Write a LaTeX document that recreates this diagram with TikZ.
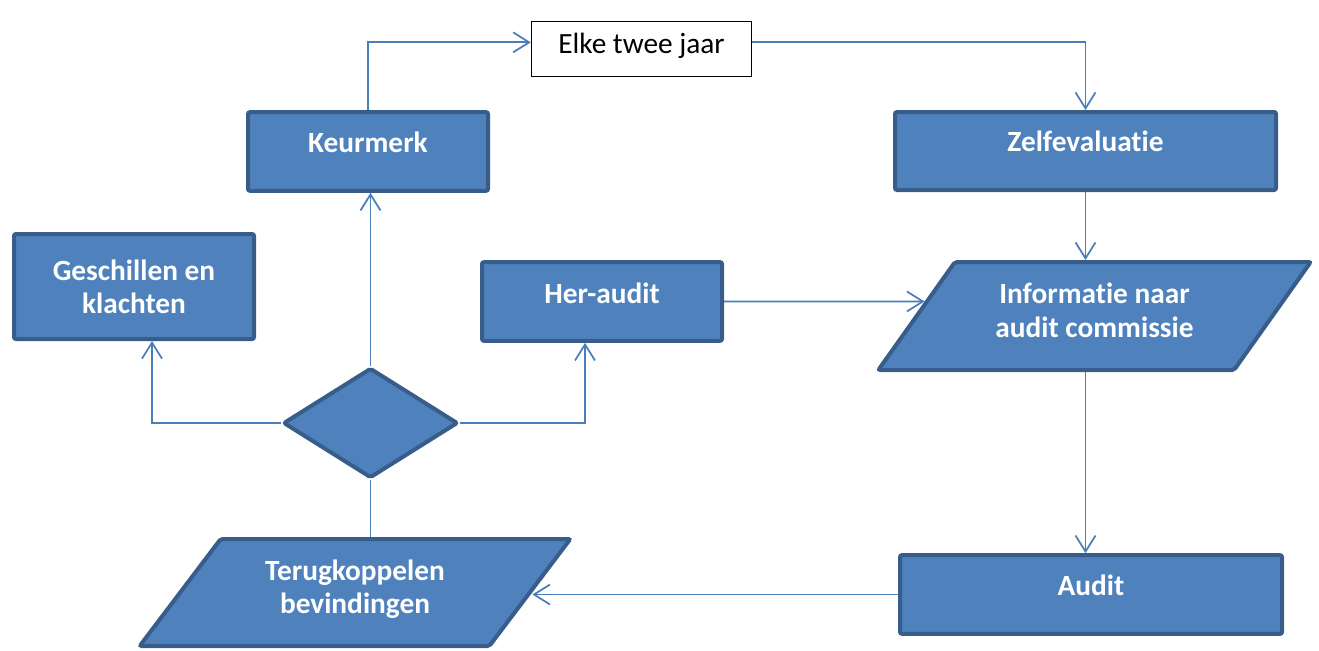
\documentclass[tikz,border=0pt]{standalone}
\usepackage{fontspec}
\setmainfont{Carlito}[Ligatures=NoCommon]
\usetikzlibrary{arrows.meta,positioning,calc,shapes.geometric}
\definecolor{boxfill}{HTML}{4F81BD}
\definecolor{boxline}{HTML}{385D8A}
\definecolor{conline}{HTML}{4A7EBB}

\begin{document}
\begin{tikzpicture}[
    x=0.75pt,y=-0.75pt,
    box/.style={rectangle,draw=boxline,fill=boxfill,line width=3pt,rounded corners=1.5pt,
      text=white,align=center,font=\fontsize{22}{25}\selectfont\bfseries},
    iobox/.style={box,trapezium,trapezium left angle=52.5,trapezium right angle=127.5,
      trapezium stretches=true},
    note/.style={rectangle,draw=black,line width=1.1pt,fill=white,
      font=\fontsize{22}{25}\selectfont},
    conn/.style={draw=conline,line width=1.3pt},
    >={Straight Barb[length=12pt,width=15pt]}]
    \useasboundingbox (0,0) rectangle (1319,650);

    \node[note,minimum width=165pt,minimum height=41.25pt,text depth=9pt] (elke) at (641.5,49) {Elke twee jaar};
    \node[box,minimum width=180pt,minimum height=59pt,text depth=14pt] (keur) at (368,151.5) {Keurmerk};
    \node[box,minimum width=285.75pt,minimum height=58.5pt,text depth=14pt] (zelf) at (1085.5,151) {Zelfevaluatie};
    \node[box,minimum width=180pt,minimum height=78.75pt] (gesch) at (134,286.5) {Geschillen en\\klachten};
    \node[box,minimum width=180pt,minimum height=59pt,text depth=13pt] (her) at (602,301.5) {Her-audit};
    \node[iobox,minimum width=324.75pt,minimum height=81pt,text depth=8.5pt] (info) at (1094.5,316) {Informatie naar\\audit commissie};
    \node[box,diamond,inner sep=0pt,minimum width=131pt,minimum height=82.5pt] (dia) at (370.5,423) {};
    \node[box,minimum width=286.5pt,minimum height=59pt,text depth=14pt] (audit) at (1091,594.5) {Audit};
    \node[iobox,minimum width=324pt,minimum height=80.25pt,text depth=8.5pt] (terug) at (355,592.5) {Terugkoppelen\\bevindingen};

    \draw[conn,->] (keur.north) |- ([yshift=5pt]elke.west);
    \draw[conn,->] ([yshift=5pt]elke.east) -| (zelf.north);
    \draw[conn,->] (zelf.south) -- (zelf.south |- info.north);
    \draw[conn,->] (info.south -| zelf.south) -- (audit.north -| zelf.south);
    \draw[conn,->] (audit.west) -- (audit.west -| terug.east);
    \draw[conn] (dia.south |- terug.north) -- (dia.south);
    \draw[conn,->] (dia.north) -- (dia.north |- keur.south);
    \draw[conn,->] (dia.west) -| ([xshift=13.5pt]gesch.south);
    \draw[conn,->] (dia.east) -| ([xshift=-12.75pt]her.south);
    \draw[conn,->] (her.east) -- ($(info.bottom left corner)!0.63!(info.top left corner)$);
\end{tikzpicture}
\end{document}
